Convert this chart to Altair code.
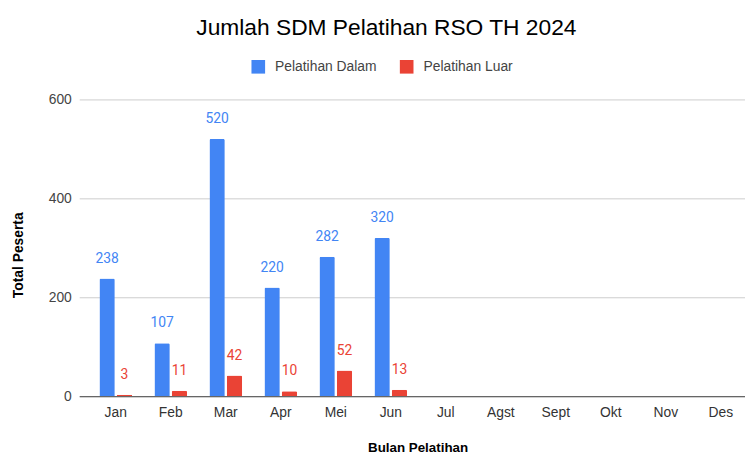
import altair as alt
import pandas as pd

months = ["Jan", "Feb", "Mar", "Apr", "Mei", "Jun", "Jul", "Agst", "Sept", "Okt", "Nov", "Des"]
series = ["Pelatihan Dalam", "Pelatihan Luar"]
dalam = [238, 107, 520, 220, 282, 320]
luar = [3, 11, 42, 10, 52, 13]
colors = ["#4285F4", "#EA4335"]
y_ticks = [0, 200, 400, 600]

rows = []
for m, v in zip(months, dalam):
    rows.append({"Bulan": m, "Seri": series[0], "Total": v})
for m, v in zip(months, luar):
    rows.append({"Bulan": m, "Seri": series[1], "Total": v})
df = pd.DataFrame(rows)

FONT = "Liberation Sans"

x_enc = alt.X(
    "Bulan:N",
    scale=alt.Scale(domain=months, paddingInner=0.406, paddingOuter=0.255, align=0.72),
    axis=alt.Axis(
        title="Bulan Pelatihan", labelAngle=0, ticks=False, grid=False,
        domain=True, domainColor="#666666", domainWidth=1.3,
        labelPadding=10, titlePadding=21, labelFontSize=14, labelColor="#333333",
        labelFont=FONT, titleFont=FONT, titleFontSize=13.5, titleFontWeight="bold",
        titleColor="#000000", titleX=342,
    ),
)
xoff_enc = alt.XOffset("Seri:N", scale=alt.Scale(domain=series, paddingInner=0.114, paddingOuter=0))
y_enc = alt.Y(
    "Total:Q",
    scale=alt.Scale(domain=[0, 600]),
    axis=alt.Axis(
        title="Total Peserta", values=y_ticks, ticks=False, domain=False,
        grid=True, gridColor="#cccccc", labelPadding=8,
        labelFontSize=14, labelColor="#444444", labelFont=FONT,
        titleFont=FONT, titleFontSize=14, titleFontWeight="bold", titleColor="#000000",
        titleX=-61, titleY=157, titleBaseline="middle", titleAngle=270,
    ),
)
color_enc = alt.Color(
    "Seri:N",
    scale=alt.Scale(domain=series, range=colors),
    legend=alt.Legend(
        title=None, orient="none", legendX=174, legendY=-40, direction="horizontal",
        symbolType="square", symbolSize=190, symbolStrokeWidth=0,
        labelFontSize=14, labelFont=FONT, labelColor="#444444",
        columnPadding=23, labelOffset=10,
    ),
)

base = alt.Chart(df).encode(x=x_enc, xOffset=xoff_enc, y=y_enc, color=color_enc)
bars = base.mark_bar(cornerRadiusTopLeft=1.5, cornerRadiusTopRight=1.5)
labels = base.mark_text(dy=-16, baseline="alphabetic", fontSize=14, font="Roboto").encode(text="Total:Q")

chart = (
    alt.layer(bars, labels)
    .properties(
        width=673,
        height=300,
        autosize=alt.AutoSizeParams(type="none"),
        padding={"left": 72, "top": 90, "right": 0, "bottom": 57},
        title=alt.TitleParams(
            "Jumlah SDM Pelatihan RSO TH 2024", fontSize=23, font=FONT,
            fontWeight="normal", color="#000000", anchor="middle", dx=-26,
            offset=2, baseline="alphabetic",
        ),
    )
    .configure_view(stroke=None)
)

chart.save("out.html", embed_options={"renderer": "svg", "actions": False})
